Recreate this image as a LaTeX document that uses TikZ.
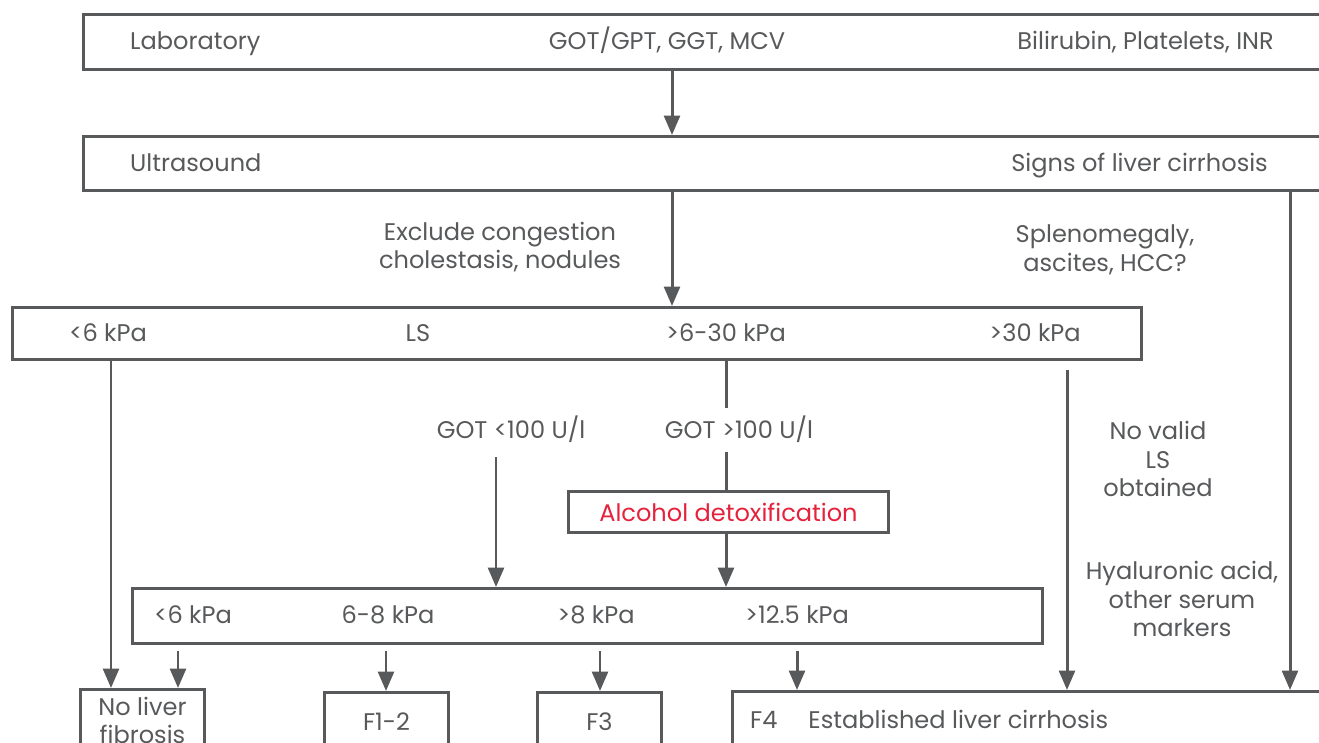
\documentclass[tikz,border=0pt]{standalone}
\usepackage{fontspec}
\setmainfont{Poppins}
\usetikzlibrary{arrows.meta, positioning}
\definecolor{ink}{HTML}{58595B}
\definecolor{alc}{HTML}{E5223C}

\begin{document}
\begin{tikzpicture}[x=0.02cm, y=-0.02cm,
    every node/.style={text=ink, font=\fontsize{13.7}{16}\selectfont},
    one/.style={text height=1.45ex, text depth=0.3ex, yshift=-0.06cm},
    box/.style={draw=ink, line width=1.7pt, inner sep=0pt, anchor=north west},
    txt/.style={align=center, font=\fontsize{13.7}{16.3}\selectfont},
    ln/.style={draw=ink, line width=1.7pt},
    arr/.style={ln, -{Triangle[length=11pt, width=9pt]}}]

  \useasboundingbox (0,0) rectangle (1319,743);
  \clip (0,0) rectangle (1319,743);

  % main boxes
  \node[box, minimum width=25.2cm, minimum height=1.1cm] (lab) at (82,13) {};
  \node[box, minimum width=25.2cm, minimum height=1.08cm] (us) at (82,135) {};
  \node[box, minimum width=22.58cm, minimum height=1.04cm] (ls) at (11,306) {};
  \node[box, minimum width=6.4cm, minimum height=0.82cm, text=alc] (alc) at (567,490) {Alcohol detoxification};
  \node[box, minimum width=18.2cm, minimum height=1.1cm] (kpa) at (131,587) {};

  % outcome boxes
  \node[box, minimum width=2.48cm, minimum height=1.24cm, txt] (nolf) at (79,688) {No liver\\fibrosis};
  \node[box, minimum width=2.48cm, minimum height=1.16cm] (f12) at (323,691) {F1-2};
  \node[box, minimum width=2.48cm, minimum height=1.16cm] (f3) at (536,691) {F3};
  \node[box, minimum width=12.4cm, minimum height=1.2cm] (f4) at (731,690) {};
  \node[one, anchor=west] (f4t) at (744,720) {F4\hspace{0.62cm}Established liver cirrhosis};

  % row texts
  \node[one, anchor=west] (labt) at (124,41) {Laboratory};
  \node[one] (labm) at (667,41) {GOT/GPT, GGT, MCV};
  \node[one, anchor=east] (labr) at (1280,41) {Bilirubin, Platelets, INR};
  \node[one, anchor=west] (ust) at (124,163) {Ultrasound};
  \node[one, anchor=east] (usr) at (1274,163) {Signs of liver cirrhosis};
  \foreach \x/\t [count=\i] in {108/{<6 kPa}, 418/LS, 726/{>6-30 kPa}, 1035/{>30 kPa}}
    \node[one] (ls\i) at (\x,333) {\t};
  \foreach \x/\t [count=\i] in {193/{<6 kPa}, 388/{6-8 kPa}, 596/{>8 kPa}, 797/{>12.5 kPa}}
    \node[one] (kpa\i) at (\x,615) {\t};

  % side labels
  \node[txt] (excl) at (500,247) {Exclude congestion\\cholestasis, nodules};
  \node[txt] (spl) at (1105,250) {Splenomegaly,\\ascites, HCC?};
  \node[one] (got1) at (511,430) {GOT <100 U/l};
  \node[one] (got2) at (739,430) {GOT >100 U/l};
  \node[txt] (nols) at (1158,459) {No valid\\LS\\obtained};
  \node[txt] (hya) at (1182,599) {Hyaluronic acid,\\other serum\\markers};

  % connectors
  \draw[arr] (lab.south -| 672,0) -- (us.north -| 672,0);
  \draw[arr] (us.south -| 672,0) -- (ls.north -| 672,0);
  \draw[arr] (us.south -| 1290,0) -- (f4.north -| 1290,0);
  \draw[arr] (ls.south -| 111,0) -- (nolf.north -| 111,0);
  \draw[ln] (ls.south -| 726,0) -- (726,408);
  \draw[ln] (726,452) -- (alc.north -| 726,0);
  \draw[arr] (alc.south -| 726,0) -- (kpa.north -| 726,0);
  \draw[arr] (496,457) -- (kpa.north -| 496,0);
  \draw[arr] (1067,370) -- (f4.north -| 1067,0);
  \foreach \x/\b in {178/nolf, 386/f12, 600/f3, 797/f4}
    \draw[arr] ([yshift=-0.12cm]kpa.south -| \x,0) -- (\b.north -| \x,0);
\end{tikzpicture}
\end{document}
